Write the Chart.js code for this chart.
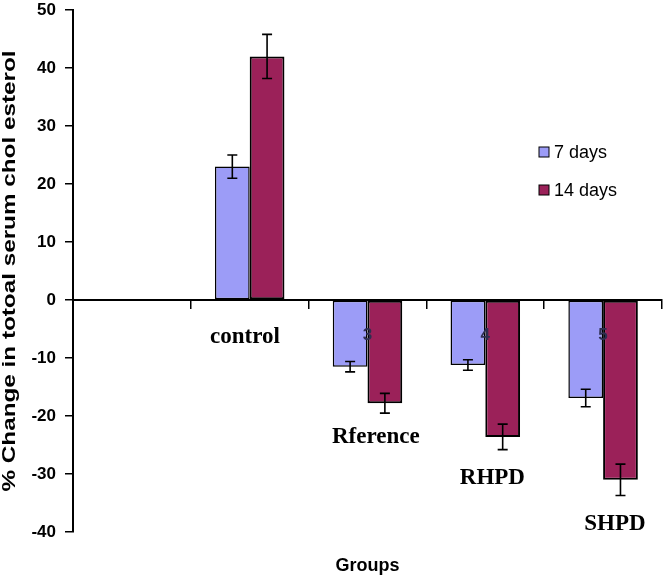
<!DOCTYPE html>
<html>
<head>
<meta charset="utf-8">
<script src="https://cdn.jsdelivr.net/npm/chart.js@4.4.0/dist/chart.umd.min.js"></script>
<style>
html, body { margin: 0; padding: 0; background: #fff; }
#wrap { width: 667px; height: 580px; }
</style>
</head>
<body>
<div id="wrap"><canvas id="chart"></canvas></div>
<script>
// groups 1..5, group 1 has no bars
let group_ticks = ['', '', '3', '4', '5'];
let group_names = ['', 'control', 'Rference', 'RHPD', 'SHPD'];
// anchor of each serif name, in axis units (category index, % change)
let group_name_x = [null, 0.96, 2.07, 3.06, 4.1];
let group_name_y = [null, -6.4, -23.6, -30.7, -38.6];
let series_names = ['7 days', '14 days'];
let days7 = [null, 23, -11.5, -11.2, -16.9];
let days14 = [null, 42, -17.8, -23.6, -31.0];
let err7 = [null, 2.0, 0.9, 0.9, 1.5];
let err14 = [null, 3.8, 1.7, 2.2, 2.7];
let y_title = '% Change in totoal serum chol esterol';
let x_title = 'Groups';

let colors = ['#9c9cf7', '#9b2159'];
let sans = "'Liberation Sans', Arial, sans-serif";
let serif = "'Liberation Serif', 'Times New Roman', serif";

let extras = {
    id: 'extras',
    afterDatasetsDraw(chart) {
        let ctx = chart.ctx;
        let ys = chart.scales.y;
        // error bars
        ctx.save();
        ctx.strokeStyle = '#000';
        ctx.lineWidth = 1.6;
        chart.data.datasets.forEach((ds, di) => {
            let meta = chart.getDatasetMeta(di);
            meta.data.forEach((bar, i) => {
                if (ds.data[i] == null) return;
                let hi = ys.getPixelForValue(ds.data[i] + ds.errors[i]);
                let lo = ys.getPixelForValue(ds.data[i] - ds.errors[i]);
                ctx.beginPath();
                ctx.moveTo(bar.x, hi); ctx.lineTo(bar.x, lo);
                ctx.moveTo(bar.x - 5, hi); ctx.lineTo(bar.x + 5, hi);
                ctx.moveTo(bar.x - 5, lo); ctx.lineTo(bar.x + 5, lo);
                ctx.stroke();
            });
        });
        ctx.restore();
    },
    afterDraw(chart) {
        let ctx = chart.ctx;
        let xs = chart.scales.x;
        let ys = chart.scales.y;
        let area = chart.chartArea;
        ctx.save();
        // group names
        ctx.fillStyle = '#000';
        ctx.font = 'bold 23px ' + serif;
        ctx.textAlign = 'center';
        ctx.textBaseline = 'middle';
        group_names.forEach((n, i) => {
            if (!n) return;
            ctx.fillText(n, xs.getPixelForValue(group_name_x[i]), ys.getPixelForValue(group_name_y[i]));
        });
        // legend
        ctx.font = '18px ' + sans;
        ctx.textAlign = 'left';
        series_names.forEach((n, i) => {
            let cy = 152 + i * 38;
            ctx.fillStyle = colors[i];
            ctx.fillRect(539, cy - 5, 10, 10);
            ctx.strokeStyle = '#000';
            ctx.lineWidth = 1;
            ctx.strokeRect(539, cy - 5, 10, 10);
            ctx.fillStyle = '#000';
            ctx.fillText(n, 554, cy + 1);
        });
        // x title
        ctx.font = 'bold 18px ' + sans;
        ctx.textAlign = 'center';
        ctx.fillText(x_title, xs.getPixelForValue(2), 566);
        // y title, stretched along its length
        ctx.translate(10, (area.top + area.bottom) / 2);
        ctx.rotate(-Math.PI / 2);
        ctx.font = 'bold 18px ' + sans;
        let w = ctx.measureText(y_title).width;
        ctx.scale(441 / w, 1);
        ctx.fillText(y_title, 0, 0);
        ctx.restore();
    }
};

let ctx = document.getElementById('chart');
let chart = new Chart(ctx, {
    type: 'bar',
    data: {
        labels: group_ticks,
        datasets: [
            {
                label: series_names[0],
                data: days7,
                errors: err7,
                backgroundColor: colors[0],
                borderColor: '#000',
                borderWidth: 1.5,
                borderSkipped: false
            },
            {
                label: series_names[1],
                data: days14,
                errors: err14,
                backgroundColor: colors[1],
                borderColor: '#000',
                borderWidth: 2,
                borderSkipped: false
            }
        ]
    },
    options: {
        responsive: true,
        maintainAspectRatio: false,
        animation: false,
        layout: { padding: { top: 10, right: 5, bottom: 48, left: 0 } },
        datasets: { bar: { barPercentage: 1, categoryPercentage: 0.59 } },
        scales: {
            x: {
                type: 'category',
                position: { y: 0 },
                offset: true,
                grid: { offset: true, drawOnChartArea: false, tickLength: 8, color: '#000', lineWidth: 1.5, z: 1 },
                border: { color: '#000', width: 2, z: 1 },
                ticks: { z: 1, padding: 17, color: '#2e2e50', font: { family: sans, size: 17, weight: 'bold' }, maxRotation: 0 }
            },
            y: {
                min: -40,
                max: 50,
                afterFit(scale) {
                    scale.width = 73;
                    scale.paddingTop = 0;
                    scale.paddingBottom = 0;
                },
                grid: { drawOnChartArea: false, tickLength: 8, color: '#000', lineWidth: 1.5 },
                border: { color: '#000', width: 2 },
                ticks: { stepSize: 10, padding: 9, color: '#000', font: { family: sans, size: 17, weight: 'bold' } }
            }
        },
        plugins: {
            legend: { display: false },
            tooltip: { enabled: false }
        }
    },
    plugins: [extras]
});
</script>
</body>
</html>
